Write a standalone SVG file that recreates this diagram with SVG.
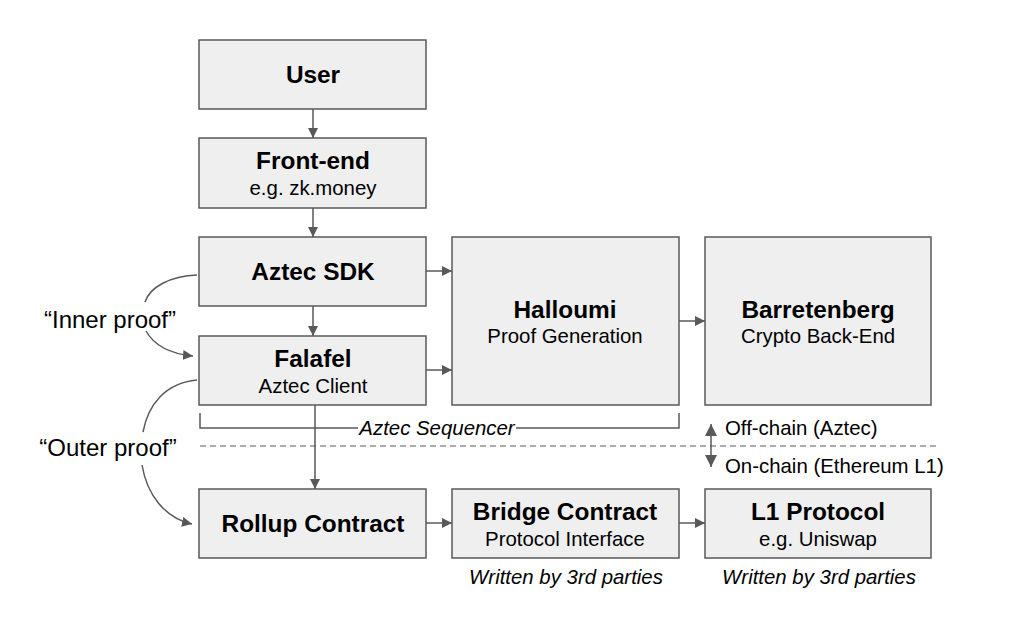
<svg xmlns="http://www.w3.org/2000/svg" width="1024" height="640" viewBox="0 0 1024 640">
<defs>
<marker id="ah" viewBox="0 0 10 10" refX="10" refY="5" markerWidth="10" markerHeight="10" markerUnits="userSpaceOnUse" orient="auto">
<path d="M0,0 L10,5 L0,10 z" fill="#595959"/>
</marker>
<marker id="ah2" viewBox="0 0 10 10" refX="10" refY="5" markerWidth="12" markerHeight="12" markerUnits="userSpaceOnUse" orient="auto-start-reverse">
<path d="M0,0 L10,5 L0,10 z" fill="#595959"/>
</marker>
</defs>
<style>
.box{fill:#efefef;stroke:#595959;stroke-width:1.5}
.t{font-family:"Liberation Sans",Arial,sans-serif;font-weight:bold;font-size:24.4px;fill:#000;text-anchor:middle}
.s{font-family:"Liberation Sans",Arial,sans-serif;font-size:20.4px;fill:#000;text-anchor:middle}
.i{font-family:"Liberation Sans",Arial,sans-serif;font-style:italic;font-size:20.4px;fill:#000;text-anchor:middle}
.l{font-family:"Liberation Sans",Arial,sans-serif;font-size:20.4px;fill:#000}
.q{font-family:"Liberation Sans",Arial,sans-serif;font-size:24px;fill:#000;text-anchor:middle}
.c{fill:none;stroke:#595959;stroke-width:1.5}
</style>
<rect width="1024" height="640" fill="#fff"/>
<g id="connectors">
<line class="c" x1="313" y1="109" x2="313" y2="138" marker-end="url(#ah)"/>
<line class="c" x1="313" y1="208" x2="313" y2="237" marker-end="url(#ah)"/>
<line class="c" x1="313" y1="306" x2="313" y2="336" marker-end="url(#ah)"/>
<line class="c" x1="426" y1="271" x2="452" y2="271" marker-end="url(#ah)"/>
<line class="c" x1="426" y1="370" x2="452" y2="370" marker-end="url(#ah)"/>
<line class="c" x1="679" y1="321" x2="705" y2="321" marker-end="url(#ah)"/>
<line class="c" x1="315" y1="405" x2="315" y2="489" marker-end="url(#ah)"/>
<line class="c" x1="426" y1="523" x2="452" y2="523" marker-end="url(#ah)"/>
<line class="c" x1="679" y1="523" x2="705" y2="523" marker-end="url(#ah)"/>
<path class="c" d="M197,275 C170,276 150,287 145,302"/>
<path class="c" d="M146,331 C155,347 172,354 193,356" marker-end="url(#ah)"/>
<path class="c" d="M197,380 C165,383 148,405 143,432"/>
<path class="c" d="M142,465 C147,495 165,518 192,524" marker-end="url(#ah)"/>
<path class="c" d="M200,413 V428 H358"/>
<path class="c" d="M516,428 H679 V413"/>
<line x1="200" y1="446" x2="940" y2="446" stroke="#595959" stroke-width="1.2" stroke-dasharray="6,4"/>
<line class="c" x1="711" y1="446" x2="711" y2="424" marker-end="url(#ah2)"/>
<line class="c" x1="711" y1="446" x2="711" y2="467" marker-end="url(#ah2)"/>
</g>
<g id="user"><rect class="box" x="199" y="40" width="227" height="69"/><text class="t" x="313" y="83">User</text></g>
<g id="frontend"><rect class="box" x="199" y="138" width="227" height="70"/><text class="t" x="313" y="169">Front-end</text><text class="s" x="313" y="195">e.g. zk.money</text></g>
<g id="sdk"><rect class="box" x="199" y="237" width="227" height="69"/><text class="t" x="313" y="280">Aztec SDK</text></g>
<g id="falafel"><rect class="box" x="199" y="336" width="227" height="69"/><text class="t" x="313" y="367">Falafel</text><text class="s" x="313" y="393">Aztec Client</text></g>
<g id="halloumi"><rect class="box" x="452" y="237" width="227" height="168"/><text class="t" x="565" y="318">Halloumi</text><text class="s" x="565" y="343">Proof Generation</text></g>
<g id="barretenberg"><rect class="box" x="705" y="237" width="226" height="168"/><text class="t" x="818" y="318">Barretenberg</text><text class="s" x="818" y="343">Crypto Back-End</text></g>
<g id="rollup"><rect class="box" x="199" y="489" width="227" height="69"/><text class="t" x="313" y="532">Rollup Contract</text></g>
<g id="bridge"><rect class="box" x="452" y="489" width="227" height="69"/><text class="t" x="565" y="520">Bridge Contract</text><text class="s" x="565" y="546">Protocol Interface</text></g>
<g id="l1"><rect class="box" x="705" y="489" width="226" height="69"/><text class="t" x="818" y="520">L1 Protocol</text><text class="s" x="818" y="546">e.g. Uniswap</text></g>
<g id="labels">
<text class="i" x="437" y="435">Aztec Sequencer</text>
<text class="l" x="725" y="435">Off-chain (Aztec)</text>
<text class="l" x="725" y="473">On-chain (Ethereum L1)</text>
<text class="q" x="110" y="328">“Inner proof”</text>
<text class="q" x="108" y="456">“Outer proof”</text>
<text class="i" x="566" y="584">Written by 3rd parties</text>
<text class="i" x="819" y="584">Written by 3rd parties</text>
</g>
</svg>
